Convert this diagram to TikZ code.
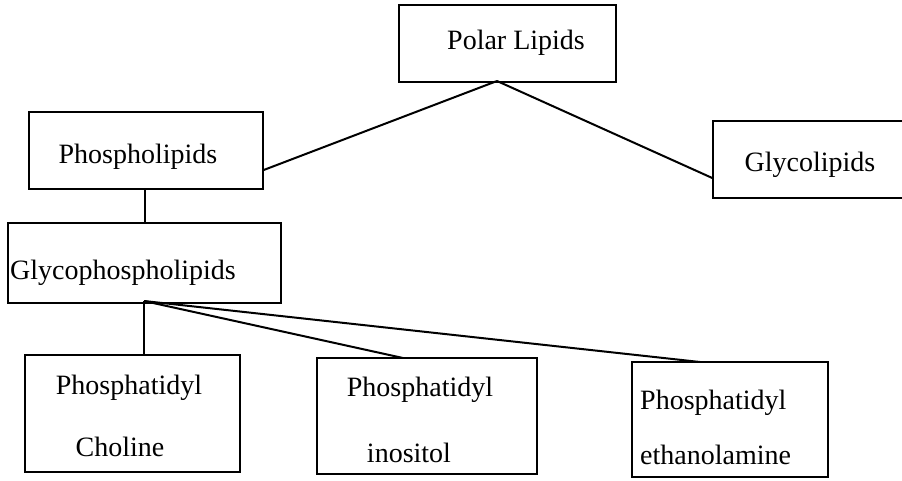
\documentclass[tikz,border=0pt]{standalone}
\usepackage{fontspec}
\setmainfont{Liberation Serif}
\begin{document}
\begin{tikzpicture}[x=1pt,y=-1pt,
  box/.style={draw=black,line width=1.5pt,rectangle,inner sep=0pt},
  lbl/.style={inner sep=0pt,font=\fontsize{28}{32}\selectfont},
  link/.style={draw=black,line width=2pt}]
\useasboundingbox (0,0) rectangle (902,481);
\fill[white] (0,0) rectangle (902,481);
\clip (0,0) rectangle (902,481);
% boxes
\node[box,minimum width=217pt,minimum height=77pt] (polar) at (507.5,43.5) {};
\node[box,minimum width=234pt,minimum height=77pt] (phos) at (146,150.5) {};
\node[box,minimum width=200pt,minimum height=77pt] (glycol) at (813,159.5) {};
\node[box,minimum width=273pt,minimum height=80pt] (gp) at (144.5,263) {};
\node[box,minimum width=215pt,minimum height=117pt] (pc) at (132.5,413.5) {};
\node[box,minimum width=220pt,minimum height=116pt] (pi) at (427,416) {};
\node[box,minimum width=196pt,minimum height=115pt] (pe) at (730,419.5) {};
% labels
\node[lbl,anchor=west] (tpolar) at (447,43) {Polar Lipids};
\node[lbl] (tphos) at (138,157) {Phospholipids};
\node[lbl] (tglycol) at (810,165) {Glycolipids};
\node[lbl,anchor=west] (tgp) at (10,273) {Glycophospholipids};
\node[lbl] (tpc1) at (129,388) {Phosphatidyl};
\node[lbl] (tpc2) at (120,447) {Choline};
\node[lbl] (tpi1) at (420,390) {Phosphatidyl};
\node[lbl] (tpi2) at (409,453) {inositol};
\node[lbl,anchor=west] (tpe1) at (640,403) {Phosphatidyl};
\node[lbl,anchor=west] (tpe2) at (640,455) {ethanolamine};
% apex points
\coordinate (pa) at (497,81);
\coordinate (ga) at (144,301);
% connectors
\draw[link] (pa) -- (phos.east |- 0,170);
\draw[link] (pa) -- (glycol.west |- 0,178);
\draw[link] (phos.south -| 145,0) -- (gp.north -| 145,0);
\draw[link] (ga) -- (pc.north -| ga);
\draw[link] (ga) -- (403,358);
\draw[link] (ga) -- (700,362);
\end{tikzpicture}
\end{document}
